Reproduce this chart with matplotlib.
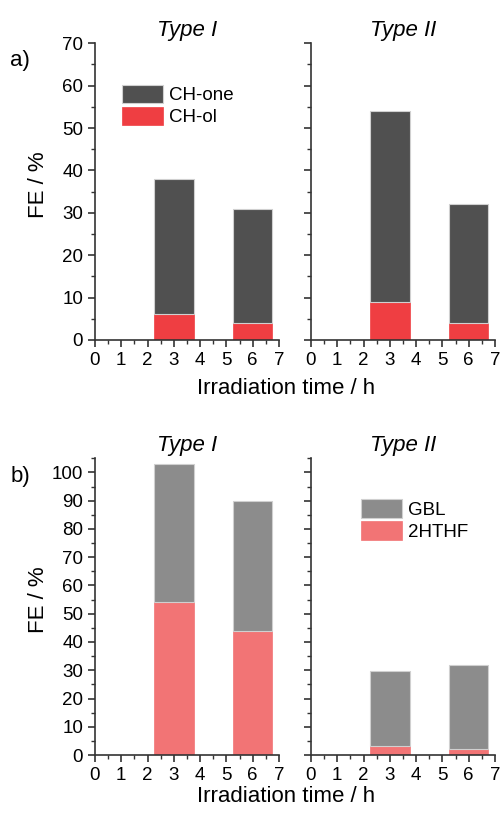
import numpy as np
import matplotlib
matplotlib.use("Agg")
import matplotlib.pyplot as plt

plt.rcParams['font.family'] = ['Liberation Sans', 'DejaVu Sans']

# irradiation times (h)
times = [3, 6]

# a) cyclohexane oxidation, FE (%)
ch_ol_I = [6.1, 4.1]
ch_one_I = [31.9, 26.9]      # stacked on top of CH-ol (totals 38, 31)
ch_ol_II = [9.0, 4.1]
ch_one_II = [45.0, 27.9]     # totals 54, 32

# b) THF oxidation, FE (%)
hthf_I = [54.0, 44.0]
gbl_I = [49.0, 46.0]         # totals 103, 90
hthf_II = [3.2, 2.1]
gbl_II = [26.5, 29.7]        # totals 29.7, 31.8

c_one = "#505050"
c_ol = "#EF3E42"
c_gbl = "#8C8C8C"
c_hthf = "#F27475"

fig = plt.figure(figsize=(5, 8.13), dpi=100)

w = 0.368
h = 0.365
positions = [
    [0.19, 0.5818, w, h], [0.622, 0.5818, w, h],
    [0.19, 0.0713, w, h], [0.622, 0.0713, w, h],
]
axes = [fig.add_axes(p) for p in positions]

panels = [
    (ch_ol_I, ch_one_I, c_ol, c_one, "Type I", 70, 10),
    (ch_ol_II, ch_one_II, c_ol, c_one, "Type II", 70, 10),
    (hthf_I, gbl_I, c_hthf, c_gbl, "Type I", 105, 10),
    (hthf_II, gbl_II, c_hthf, c_gbl, "Type II", 105, 10),
]

handles = []
for i, (ax, (low, high, cl, ch, title, ymax, step)) in enumerate(zip(axes, panels)):
    b1 = ax.bar(times, low, width=1.5, color=cl, edgecolor=cl, linewidth=0.5)
    b2 = ax.bar(times, high, bottom=low, width=1.5, color=ch, edgecolor="#d0d0d0", linewidth=0.8)
    handles.append((b2, b1))
    ax.set_xlim(0, 7)
    ax.set_ylim(0, ymax)
    ax.set_xticks(range(0, 8))
    ax.set_xticks(np.arange(0.5, 7, 1), minor=True)
    ax.set_yticks(np.arange(0, ymax + 1, step))
    ax.set_yticks(np.arange(5, ymax + 1, 5), minor=True)
    for s in ["top", "right"]:
        ax.spines[s].set_visible(False)
    for s in ["left", "bottom"]:
        ax.spines[s].set_linewidth(1.2)
        ax.spines[s].set_color("#333333")
    ax.tick_params(which="major", direction="out", length=5, width=1.2, labelsize=13.5, colors="#333333", labelcolor="black")
    ax.tick_params(which="minor", direction="out", length=3, width=1.0, colors="#333333")
    if i % 2 == 1:
        ax.tick_params(axis="y", labelleft=False)
    ax.set_title(title, fontsize=16, style="italic", pad=5)

leg_kw = dict(loc="upper left", frameon=False, fontsize=13.5, handlelength=2.2,
              handleheight=1.15, labelspacing=0.12, handletextpad=0.3,
              borderaxespad=0, borderpad=0)
axes[0].legend([handles[0][0], handles[0][1]], ["CH-one", "CH-ol"],
               bbox_to_anchor=(0.147, 0.86), **leg_kw)
axes[3].legend([handles[3][0], handles[3][1]], ["GBL", "2HTHF"],
               bbox_to_anchor=(0.272, 0.862), **leg_kw)

for yc, xl_y, tag, ty in [(0.7725, 0.522, "a)", 0.926), (0.262, 0.02, "b)", 0.414)]:
    fig.text(0.077, yc, "FE / %", rotation=90, ha="center", va="center", fontsize=16)
    fig.text(0.572, xl_y, "Irradiation time / h", ha="center", va="center", fontsize=16)
    fig.text(0.04, ty, tag, ha="center", va="center", fontsize=16)

fig.savefig("out.png", dpi=100)
